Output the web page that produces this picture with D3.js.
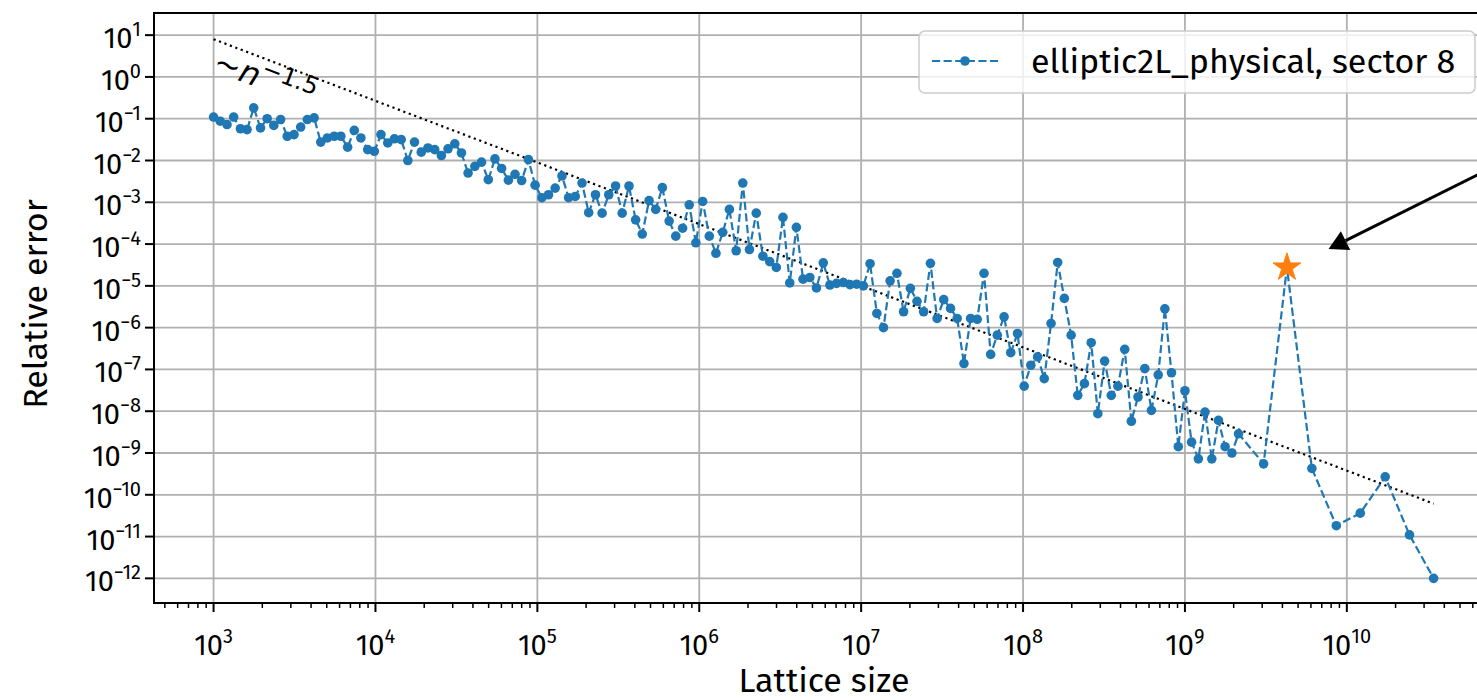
<!DOCTYPE html>
<html>
<head>
<meta charset="utf-8">
<script src="https://cdn.jsdelivr.net/npm/d3@7"></script>
<style>
  html, body { margin: 0; padding: 0; background: #ffffff; }
  svg { display: block; }
  text { font-family: "Fira Sans", "Open Sans", "Noto Sans", sans-serif; fill: #000; }
</style>
</head>
<body>
<svg id="chart" width="1477" height="700"></svg>
<script>
// log10 of the lattice size for each run
const latticeExp = [
  3.000, 3.041, 3.083, 3.124, 3.166, 3.207, 3.248, 3.290, 3.331, 3.372, 3.414, 3.455,
  3.497, 3.538, 3.579, 3.621, 3.662, 3.703, 3.745, 3.786, 3.828, 3.869, 3.910, 3.952,
  3.993, 4.034, 4.076, 4.117, 4.159, 4.200, 4.241, 4.283, 4.324, 4.366, 4.407, 4.448,
  4.490, 4.531, 4.572, 4.614, 4.655, 4.697, 4.738, 4.779, 4.821, 4.862, 4.903, 4.945,
  4.986, 5.028, 5.069, 5.110, 5.152, 5.193, 5.234, 5.276, 5.317, 5.359, 5.400, 5.441,
  5.483, 5.524, 5.566, 5.607, 5.648, 5.690, 5.731, 5.772, 5.814, 5.855, 5.897, 5.938,
  5.979, 6.021, 6.062, 6.103, 6.145, 6.186, 6.228, 6.269, 6.310, 6.352, 6.393, 6.435,
  6.476, 6.517, 6.559, 6.600, 6.641, 6.683, 6.724, 6.766, 6.807, 6.848, 6.890, 6.931,
  6.972, 7.014, 7.055, 7.097, 7.138, 7.179, 7.221, 7.262, 7.304, 7.345, 7.386, 7.428,
  7.469, 7.510, 7.552, 7.593, 7.635, 7.676, 7.717, 7.759, 7.800, 7.841, 7.883, 7.924,
  7.966, 8.007, 8.048, 8.090, 8.131, 8.173, 8.214, 8.255, 8.297, 8.338, 8.379, 8.421,
  8.462, 8.504, 8.545, 8.586, 8.628, 8.669, 8.710, 8.752, 8.793, 8.835, 8.876, 8.917,
  8.959, 9.000, 9.041, 9.083, 9.124, 9.166, 9.207, 9.248, 9.290, 9.331,
  9.486, 9.630, 9.784, 9.935, 10.083, 10.237, 10.387, 10.536
];

// log10 of the relative error for each run
const log10Error = [
  -0.96, -1.06, -1.14, -0.96, -1.24, -1.26, -0.74, -1.22, -1.00, -1.16, -1.02, -1.42,
  -1.38, -1.20, -1.02, -0.98, -1.56, -1.46, -1.42, -1.42, -1.68, -1.28, -1.46, -1.74,
  -1.78, -1.38, -1.58, -1.48, -1.50, -2.00, -1.56, -1.80, -1.70, -1.74, -1.88, -1.72,
  -1.60, -1.82, -2.30, -2.14, -2.04, -2.46, -1.96, -2.19, -2.47, -2.33, -2.48, -1.98,
  -2.59, -2.89, -2.82, -2.66, -2.37, -2.89, -2.86, -2.54, -3.25, -2.82, -3.26, -2.82,
  -2.61, -3.26, -2.61, -3.42, -3.76, -2.96, -3.17, -2.65, -3.45, -3.81, -3.62, -3.06,
  -3.97, -2.98, -3.81, -4.22, -3.72, -3.17, -4.16, -2.54, -4.13, -3.26, -4.29, -4.42,
  -4.56, -3.36, -4.93, -3.60, -4.84, -4.80, -5.05, -4.45, -4.98, -4.94, -4.92, -4.97,
  -4.96, -5.00, -4.47, -5.66, -6.00, -4.88, -4.70, -5.62, -5.06, -5.37, -5.62, -4.46,
  -5.78, -5.33, -5.54, -5.78, -6.86, -5.78, -5.80, -4.70, -6.64, -6.18, -5.74, -6.60,
  -6.14, -7.40, -6.90, -6.70, -7.22, -5.90, -4.44, -5.30, -6.18, -7.62, -7.34, -6.36,
  -8.06, -6.80, -7.62, -7.40, -6.52, -8.24, -7.66, -6.98, -7.98, -7.13, -5.55, -7.08,
  -8.85, -7.51, -8.74, -9.14, -8.02, -9.14, -8.22, -8.85, -9.00, -8.54, -9.26, -4.56,
  -9.37, -10.74, -10.44, -9.57, -10.96, -12.00
];

const seriesLabel = "elliptic2L_physical, sector 8";
const highlightIndex = 155;          // run marked with a star

// reference power law  err ~ A * (n / 1e3)^p
const refExponent = -1.475;
const refPrefactor = 8.0;
const refLabelAt = [1e3, 1.45];

// annotation arrow (data coordinates)
const arrowTip = [Math.pow(10, 9.887), Math.pow(10, -4.12)];
const arrowTail = [Math.pow(10, 11.69), Math.pow(10, -0.64)];

const xTickExps = [3, 4, 5, 6, 7, 8, 9, 10];
const yTickExps = [1, 0, -1, -2, -3, -4, -5, -6, -7, -8, -9, -10, -11, -12];

const xLabel = "Lattice size";
const yLabel = "Relative error";

const blue = "#1f77b4", orange = "#ff7f0e", gridGray = "#b0b0b0";

const plot = { left: 154, right: 1494, top: 13, bottom: 603 };

const x = d3.scaleLog().domain([Math.pow(10, 2.632), Math.pow(10, 10.909)]).range([plot.left, plot.right]);
const y = d3.scaleLog().domain([Math.pow(10, -12.59), Math.pow(10, 1.53)]).range([plot.bottom, plot.top]);

const data = latticeExp.map((e, i) => ({ n: Math.pow(10, e), err: Math.pow(10, log10Error[i]) }));

const svg = d3.select("#chart");

function supText(e) { return e < 0 ? "\u2212" + (-e) : String(e); }

// grid
const grid = svg.append("g");
xTickExps.forEach(e => {
  grid.append("line")
    .attr("x1", x(Math.pow(10, e))).attr("x2", x(Math.pow(10, e)))
    .attr("y1", plot.top).attr("y2", plot.bottom)
    .attr("stroke", gridGray).attr("stroke-width", 1.8);
});
yTickExps.forEach(e => {
  grid.append("line")
    .attr("x1", plot.left).attr("x2", plot.right)
    .attr("y1", y(Math.pow(10, e))).attr("y2", y(Math.pow(10, e)))
    .attr("stroke", gridGray).attr("stroke-width", 1.8);
});

// reference power-law line
const refN = [data[0].n, data[data.length - 1].n];
const refPts = refN.map(n => ({ n, err: refPrefactor * Math.pow(n / 1e3, refExponent) }));
svg.append("path")
  .attr("d", d3.line().x(d => x(d.n)).y(d => y(d.err))(refPts))
  .attr("fill", "none").attr("stroke", "#000").attr("stroke-width", 2.2)
  .attr("stroke-dasharray", "2.2,3.6");

// series
svg.append("path")
  .attr("d", d3.line().x(d => x(d.n)).y(d => y(d.err))(data))
  .attr("fill", "none").attr("stroke", blue).attr("stroke-width", 2.2)
  .attr("stroke-dasharray", "8.1,3.5");

svg.append("g").selectAll("circle").data(data).join("circle")
  .attr("cx", d => x(d.n)).attr("cy", d => y(d.err)).attr("r", 4.8)
  .attr("fill", blue);

// highlighted run
const hl = data[highlightIndex];
svg.append("path")
  .attr("d", d3.symbol(d3.symbolStar, 240)())
  .attr("transform", `translate(${x(hl.n)},${y(hl.err)})`)
  .attr("fill", orange).attr("stroke", orange).attr("stroke-width", 1);

// reference label, rotated along the line
const p0 = [x(refPts[0].n), y(refPts[0].err)], p1 = [x(refPts[1].n), y(refPts[1].err)];
const angle = Math.atan2(p1[1] - p0[1], p1[0] - p0[0]) * 180 / Math.PI;
const refText = svg.append("text")
  .attr("transform", `translate(${x(refLabelAt[0]) - 2},${y(refLabelAt[1])}) rotate(${angle})`)
  .style("font-family", "'DejaVu Sans', sans-serif").attr("font-size", 32);
refText.append("tspan").text("\u223C");
refText.append("tspan").attr("font-style", "italic").text("n");
refText.append("tspan").attr("font-size", 24).attr("dy", -13).text("\u22121.5");

// annotation arrow
const tip = [x(arrowTip[0]), y(arrowTip[1])], tail = [x(arrowTail[0]), y(arrowTail[1])];
const dx = tip[0] - tail[0], dy = tip[1] - tail[1], len = Math.hypot(dx, dy);
const ux = dx / len, uy = dy / len;
const headLen = 19, headHalf = 10.5;
const base = [tip[0] - ux * headLen, tip[1] - uy * headLen];
svg.append("line")
  .attr("x1", tail[0]).attr("y1", tail[1]).attr("x2", base[0]).attr("y2", base[1])
  .attr("stroke", "#000").attr("stroke-width", 3);
svg.append("path")
  .attr("d", `M${tip[0]},${tip[1]}L${base[0] - uy * headHalf},${base[1] + ux * headHalf}L${base[0] + uy * headHalf},${base[1] - ux * headHalf}Z`)
  .attr("fill", "#000");

// spines
svg.append("path")
  .attr("d", `M${plot.right},${plot.top}H${plot.left}V${plot.bottom}H${plot.right}`)
  .attr("fill", "none").attr("stroke", "#000").attr("stroke-width", 2);

// x ticks
const xt = svg.append("g");
xTickExps.forEach(e => {
  const px = x(Math.pow(10, e));
  xt.append("line").attr("x1", px).attr("x2", px).attr("y1", plot.bottom).attr("y2", plot.bottom + 9)
    .attr("stroke", "#000").attr("stroke-width", 2);
  const t = xt.append("text").attr("x", px).attr("y", plot.bottom + 52)
    .attr("text-anchor", "middle").attr("font-size", 29);
  t.append("tspan").text("10");
  t.append("tspan").attr("font-size", 20).attr("dy", -12).text(supText(e));
});
const [xd0, xd1] = x.domain();
for (let d = Math.floor(Math.log10(xd0)); d <= Math.ceil(Math.log10(xd1)); d++) {
  for (let m = 2; m <= 9; m++) {
    const v = m * Math.pow(10, d);
    if (v < xd0 || v > xd1) continue;
    const px = x(v);
    xt.append("line").attr("x1", px).attr("x2", px).attr("y1", plot.bottom).attr("y2", plot.bottom + 5)
      .attr("stroke", "#000").attr("stroke-width", 1.5);
  }
}

// y ticks
const yt = svg.append("g");
yTickExps.forEach(e => {
  const py = y(Math.pow(10, e));
  yt.append("line").attr("x1", plot.left - 9).attr("x2", plot.left).attr("y1", py).attr("y2", py)
    .attr("stroke", "#000").attr("stroke-width", 2);
  const t = yt.append("text").attr("x", plot.left - 13).attr("y", py + 13)
    .attr("text-anchor", "end").attr("font-size", 29);
  t.append("tspan").text("10");
  t.append("tspan").attr("font-size", 20).attr("dy", -12).text(supText(e));
});

// axis labels
svg.append("text").attr("x", 824).attr("y", 692).attr("text-anchor", "middle")
  .attr("font-size", 34).text(xLabel);
svg.append("text").attr("transform", "translate(47,304) rotate(-90)").attr("text-anchor", "middle")
  .attr("font-size", 34).text(yLabel);

// legend
const lg = svg.append("g");
lg.append("rect").attr("x", 919).attr("y", 31).attr("width", 556).attr("height", 62)
  .attr("rx", 6).attr("fill", "#fff").attr("fill-opacity", 0.8)
  .attr("stroke", "#cccccc").attr("stroke-width", 1.5);
lg.append("line").attr("x1", 932).attr("x2", 998).attr("y1", 61).attr("y2", 61)
  .attr("stroke", blue).attr("stroke-width", 2.2).attr("stroke-dasharray", "8.1,3.5");
lg.append("circle").attr("cx", 965).attr("cy", 61).attr("r", 4.8).attr("fill", blue);
lg.append("text").attr("x", 1031).attr("y", 73).attr("font-size", 34).text(seriesLabel);
</script>
</body>
</html>
